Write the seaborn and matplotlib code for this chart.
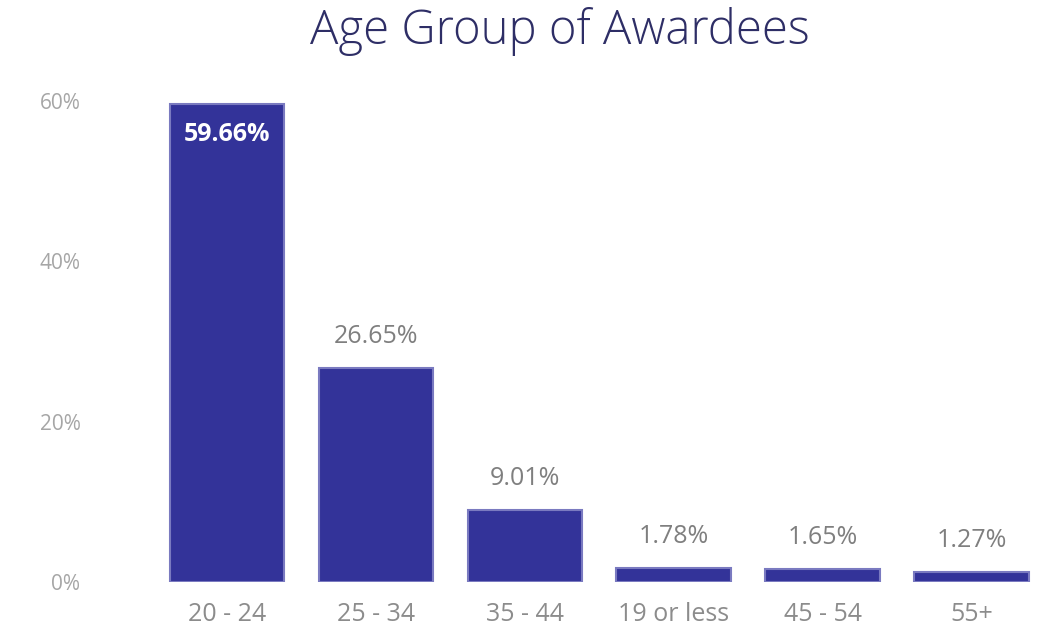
import matplotlib
matplotlib.use("Agg")
import matplotlib.pyplot as plt
import seaborn as sns
import pandas as pd
from matplotlib.ticker import FuncFormatter

categories = ["20 - 24", "25 - 34", "35 - 44", "19 or less", "45 - 54", "55+"]
values = [59.66, 26.65, 9.01, 1.78, 1.65, 1.27]
yticks = [0, 20, 40, 60]

sns.set_theme(style="white")
plt.rcParams['font.family'] = ['Open Sans', 'DejaVu Sans']

df = pd.DataFrame({"age": categories, "pct": values})

fig = plt.figure(figsize=(10.46, 6.32), dpi=100)
ax = fig.add_axes([0.146, 0.079, 0.854, 0.779])
sns.barplot(data=df, x="age", y="pct", color="#333399", saturation=1,
            width=0.77, ax=ax, edgecolor="#7a7ac0", linewidth=1.5)

ax.set_xlim(-0.5, 5.5)
ax.set_ylim(0, 61.4)
ax.set_yticks(yticks)
ax.yaxis.set_major_formatter(FuncFormatter(lambda v, p: f"{v:.0f}%"))
ax.tick_params(axis="y", labelsize=15, labelcolor="#a6a6a6", length=0, pad=52)
ax.tick_params(axis="x", labelsize=18, labelcolor="#8c8c8c", length=0, pad=14)
for lbl in ax.get_yticklabels():
    lbl.set_horizontalalignment("right")
ax.set_xlabel("")
ax.set_ylabel("")
sns.despine(ax=ax, left=True, bottom=True)

for i, v in enumerate(values):
    if i == 0:
        ax.text(i, v - 2.3, f"{v:.2f}%", ha="center", va="top", color="white",
                fontsize=18, fontweight="bold")
    else:
        ax.text(i, v + 2.4, f"{v:.2f}%", ha="center", va="bottom", color="#7f7f7f",
                fontsize=18)

fig.text(0.535, 0.95, "Age Group of Awardees", ha="center", va="center",
         fontsize=34, color="#2e2e66", fontweight="light")

fig.savefig("out.png", dpi=100, facecolor="white")
